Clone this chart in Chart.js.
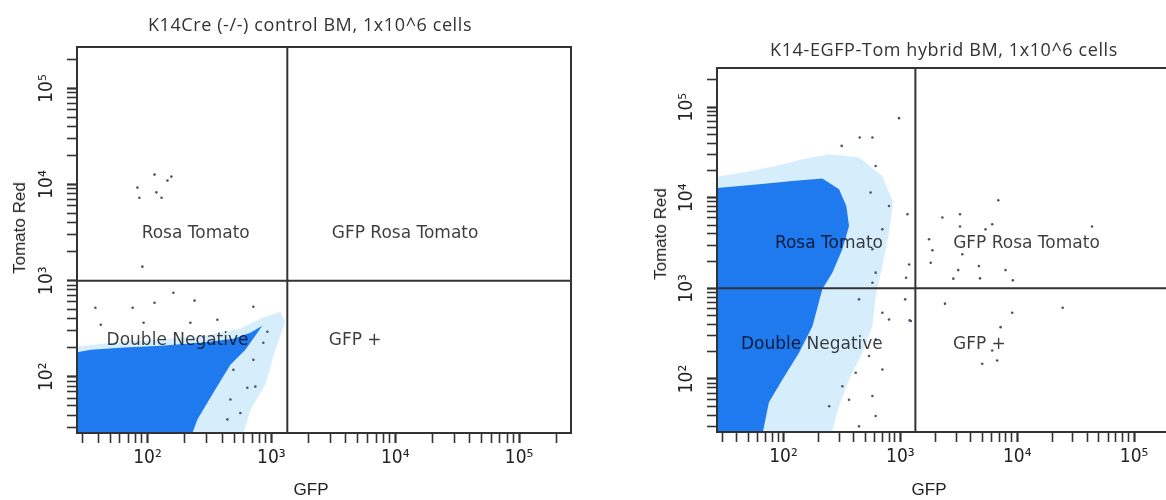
<!DOCTYPE html>
<html>
<head>
<meta charset="utf-8">
<script src="https://cdn.jsdelivr.net/npm/chart.js@4.4.0/dist/chart.umd.min.js"></script>
<style>
  html, body { margin: 0; padding: 0; background: #fff; width: 1166px; height: 500px; overflow: hidden; position: relative; }
  .panel { position: absolute; top: 0; height: 500px; }
  .lbl { position: absolute; white-space: nowrap; transform: translate(-50%, -50%); color: #333; }
  .ttl { font: 18px 'Open Sans', sans-serif; letter-spacing: 0.6px; }
  .axt { font: 17px 'Liberation Sans', sans-serif; color: #222; }
  .rot { transform: translate(-50%, -50%) rotate(-90deg); }
</style>
</head>
<body>
<div class="panel" style="left:0;width:600px"><canvas id="ctrl"></canvas></div>
<div class="panel" style="left:640px;width:560px"><canvas id="hybrid"></canvas></div>

<div class="lbl ttl" style="left:310px;top:24px">K14Cre (-/-) control BM, 1x10^6 cells</div>
<div class="lbl ttl" style="left:944px;top:49px">K14-EGFP-Tom hybrid BM, 1x10^6 cells</div>
<div class="lbl axt" style="left:311px;top:490px">GFP</div>
<div class="lbl axt" style="left:929px;top:490px">GFP</div>
<div class="lbl axt rot" style="left:20px;top:228px">Tomato Red</div>
<div class="lbl axt rot" style="left:661px;top:234px">Tomato Red</div>

<script>
// axis ranges (log scale, both channels)
const gfpMin = 27, gfpMax = 262144;
const tomMin = 26, tomMax = 270000;

// gates
const gateGFP = 1345;
const gateTomato = 1000;

// tick marks and labels
const tickValues = [30, 40, 50, 60, 70, 80, 90,
  100, 200, 300, 400, 500, 600, 700, 800, 900,
  1000, 2000, 3000, 4000, 5000, 6000, 7000, 8000, 9000,
  10000, 20000, 30000, 40000, 50000, 60000, 70000, 80000, 90000,
  100000, 200000];
const majorTicks = [100, 1000, 10000, 100000];
const majorTickLabels = ['10²', '10³', '10⁴', '10⁵'];

// quadrant names and where they sit (GFP, Tomato)
const quadrantNames = ['Rosa Tomato', 'GFP Rosa Tomato', 'Double Negative', 'GFP +'];
const quadrantGFP = [245, 12000, 175, 4750];
const quadrantTom = [3100, 3100, 240, 240];

// control BM: dense population outline, its sparse fringe, single events
const ctrlCoreGFP = [20, 20, 35, 60, 127, 267, 494, 677, 846, 617, 467, 340, 253, 214, 20];
const ctrlCoreTom = [20, 169, 191, 200, 210, 226, 249, 287, 340, 191, 133, 68, 36, 20, 20];
const ctrlHaloGFP = [20, 20, 60, 267, 562, 846, 1183, 1297, 1077, 896, 677, 562, 20];
const ctrlHaloTom = [20, 196, 232, 261, 316, 412, 476, 374, 191, 83, 45, 20, 20];
const ctrlEventGFP = [83, 114, 145, 156, 86, 118, 130, 91, 38, 76, 114, 162, 240, 716, 42, 93, 222, 367, 494, 640, 743, 467, 562, 442, 716, 861, 929];
const ctrlEventTom = [9300, 12700, 11000, 12100, 7300, 8300, 7300, 1400, 523, 523, 590, 750, 620, 535, 348, 365, 365, 392, 118, 77, 79, 58, 42, 36, 150, 226, 294];

// hybrid BM
const hybCoreGFP = [20, 20, 62, 119, 215, 299, 345, 364, 319, 262, 215, 177, 136, 98, 75, 64, 20];
const hybCoreTom = [20, 12400, 14100, 15300, 16300, 12400, 8100, 4880, 2700, 1490, 975, 383, 195, 99, 55, 20, 20];
const hybHaloGFP = [20, 20, 45, 86, 145, 246, 443, 702, 866, 800, 702, 615, 577, 473, 364, 299, 246, 20];
const hybHaloTom = [20, 16000, 19000, 22400, 26600, 30200, 27800, 17400, 8850, 4120, 1760, 822, 383, 195, 99, 50, 20, 20];
const hybEventGFP = [6890, 2290, 3240, 3240, 6110, 5360, 43700, 1760, 1880, 3390, 1820, 3130, 4700, 7940, 2840, 4800, 9180, 1150, 1190, 1120,
  2410, 9060, 24500, 7210, 6110, 5020, 6740, 1100, 1200, 975, 449, 577, 315, 1230,
  615, 557, 800, 702, 577, 615, 577, 443, 702, 800, 615, 540, 702, 415, 319, 364, 246, 577, 615, 443];
const hybEventTom = [9380, 6040, 6580, 4810, 5090, 4480, 4810, 3480, 2630, 2380, 1920, 1590, 1760, 1590, 1280, 1290, 1225, 6580, 1830, 1310,
  678, 538, 612, 373, 206, 147, 160, 756, 443, 75500, 46200, 46200, 37300, 436,
  22400, 11400, 8100, 4480, 2700, 1490, 1155, 756, 538, 454, 273, 179, 127, 117, 83, 59, 50, 65, 39, 30];

const coreBlue = '#1f7af0';
const haloBlue = 'rgba(120, 200, 245, 0.3)';
const ink = '#333';

function zip(xs, ys) {
  return xs.map((x, i) => ({ x: x, y: ys[i] }));
}

// box around the plot + quadrant names
const panelPlugin = {
  id: 'panel',
  afterDatasetsDraw(chart) {
    const { ctx, chartArea: a, scales } = chart;
    ctx.save();
    ctx.strokeStyle = ink;
    ctx.lineWidth = 2;
    ctx.strokeRect(a.left, a.top, a.right - a.left, a.bottom - a.top);
    ctx.font = '17px "DejaVu Sans", sans-serif';
    ctx.fillStyle = 'rgba(0, 0, 0, 0.76)';
    ctx.textAlign = 'center';
    ctx.textBaseline = 'middle';
    quadrantNames.forEach((name, i) => {
      ctx.fillText(name, scales.x.getPixelForValue(quadrantGFP[i]), scales.y.getPixelForValue(quadrantTom[i]));
    });
    ctx.restore();
  }
};

function axis(isX, size) {
  return {
    type: 'logarithmic',
    position: isX ? 'bottom' : 'left',
    min: isX ? gfpMin : tomMin,
    max: isX ? gfpMax : tomMax,
    afterBuildTicks: s => { s.ticks = tickValues.map(v => ({ value: v })); },
    afterFit: s => { if (isX) s.height = size; else s.width = size; },
    grid: {
      drawOnChartArea: false,
      tickLength: 10,
      tickColor: ink,
      tickWidth: c => (c.tick && majorTicks.includes(c.tick.value)) ? 2.2 : 1.6
    },
    border: { display: true, color: ink, width: 2 },
    ticks: Object.assign({
      autoSkip: false,
      color: '#222',
      font: { family: '"Liberation Sans Narrow", "DejaVu Sans Condensed", sans-serif', size: 19 },
      callback: v => {
        const i = majorTicks.indexOf(v);
        return i < 0 ? '' : majorTickLabels[i];
      }
    }, isX ? { padding: 4, minRotation: 0, maxRotation: 0 }
           : { padding: 6, minRotation: 90, maxRotation: 90, crossAlign: 'center' })
  };
}

function makePanel(id, core, halo, events, padding, xHeight) {
  new Chart(document.getElementById(id), {
    type: 'scatter',
    data: {
      datasets: [
        { type: 'line', data: [{ x: gateGFP, y: 1 }, { x: gateGFP, y: 1e6 }], borderColor: ink, borderWidth: 2, pointRadius: 0, fill: false },
        { type: 'line', data: [{ x: 1, y: gateTomato }, { x: 1e6, y: gateTomato }], borderColor: ink, borderWidth: 2, pointRadius: 0, fill: false },
        { data: events, pointRadius: 1.3, pointBackgroundColor: '#4a5668', pointBorderWidth: 0 },
        { type: 'line', data: core, fill: 'shape', backgroundColor: coreBlue, borderColor: 'rgba(0,0,0,0)', borderWidth: 0, pointRadius: 0, tension: 0 },
        { type: 'line', data: halo, fill: 'shape', backgroundColor: haloBlue, borderColor: 'rgba(0,0,0,0)', borderWidth: 0, pointRadius: 0, tension: 0 }
      ]
    },
    options: {
      responsive: true,
      maintainAspectRatio: false,
      animation: false,
      events: [],
      layout: { padding: padding },
      plugins: { legend: { display: false }, tooltip: { enabled: false } },
      scales: { x: axis(true, xHeight), y: axis(false, 77) }
    },
    plugins: [panelPlugin]
  });
}

makePanel('ctrl', zip(ctrlCoreGFP, ctrlCoreTom), zip(ctrlHaloGFP, ctrlHaloTom), zip(ctrlEventGFP, ctrlEventTom),
  { top: 47, right: 29, left: 0, bottom: 0 }, 67);
makePanel('hybrid', zip(hybCoreGFP, hybCoreTom), zip(hybHaloGFP, hybHaloTom), zip(hybEventGFP, hybEventTom),
  { top: 68, right: 17, left: 0, bottom: 0 }, 68);
</script>
</body>
</html>
